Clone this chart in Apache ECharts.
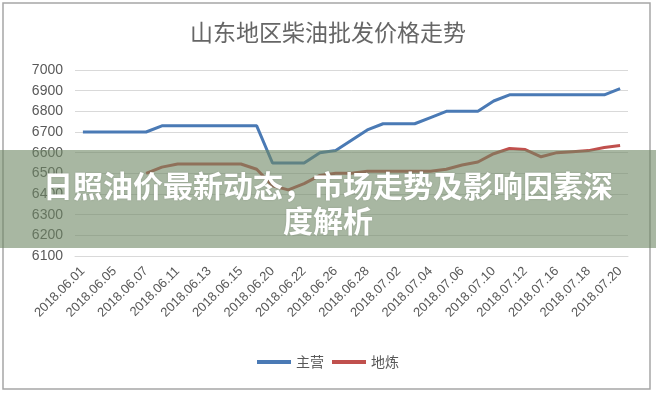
<!DOCTYPE html>
<html>
<head>
<meta charset="utf-8">
<script src="https://cdn.jsdelivr.net/npm/echarts@6/dist/echarts.min.js"></script>
<style>
html,body{margin:0;padding:0;background:#fff;}
#c{width:656px;height:400px;}
</style>
</head>
<body>
<div id="c"></div>
<script>
const dates = ['2018.06.01','2018.06.04','2018.06.05','2018.06.06','2018.06.07','2018.06.08','2018.06.11','2018.06.12','2018.06.13','2018.06.14','2018.06.15','2018.06.19','2018.06.20','2018.06.21','2018.06.22','2018.06.25','2018.06.26','2018.06.27','2018.06.28','2018.06.29','2018.07.02','2018.07.03','2018.07.04','2018.07.05','2018.07.06','2018.07.09','2018.07.10','2018.07.11','2018.07.12','2018.07.13','2018.07.16','2018.07.17','2018.07.18','2018.07.19','2018.07.20'];
const zhuying = [6700,6700,6700,6700,6700,6730,6730,6730,6730,6730,6730,6730,6550,6550,6550,6600,6610,6660,6710,6740,6740,6740,6770,6800,6800,6800,6850,6880,6880,6880,6880,6880,6880,6880,6910];
const dilian = [null,null,null,null,6500,6530,6545,6545,6545,6545,6545,6520,6440,6420,6450,6490,6500,6500,6510,6510,6510,6510,6510,6520,6540,6555,6595,6620,6615,6580,6600,6605,6610,6625,6635];
const seriesNames = ['主营','地炼'];
const titleText = '山东地区柴油批发价格走势';
const bannerText = '日照油价最新动态，市场走势及影响因素深\n度解析';

const chart = echarts.init(document.getElementById('c'), null, {renderer:'canvas'});
chart.setOption({
  animation:false,
  backgroundColor:'#fff',
  title:{text:titleText,left:'center',top:16,textStyle:{fontFamily:'Noto Sans CJK SC',fontWeight:'normal',fontSize:23,color:'#666'}},
  legend:{bottom:26,left:'center',itemWidth:34,itemHeight:4,itemGap:8,icon:'rect',
    textStyle:{fontFamily:'Noto Sans CJK SC',fontSize:14,color:'#595959'},
    data:seriesNames},
  grid:{left:75,right:28,top:70,bottom:144},
  xAxis:{type:'category',data:dates,boundaryGap:true,
    axisLine:{lineStyle:{color:'#d9d9d9'}},axisTick:{show:false},
    axisLabel:{interval:1,rotate:45,fontSize:13,color:'#595959',fontFamily:'Liberation Sans',margin:13}},
  yAxis:{type:'value',min:6100,max:7000,interval:100,
    axisLine:{show:false},axisTick:{show:false},
    splitLine:{lineStyle:{color:'#d9d9d9'}},
    axisLabel:{fontSize:14,color:'#595959',fontFamily:'Liberation Sans',margin:12,formatter:function(v){return String(v);}}},
  series:[
    {name:seriesNames[0],type:'line',data:zhuying,symbol:'none',lineStyle:{width:3,color:'#4a7ab5'},itemStyle:{color:'#4a7ab5'}},
    {name:seriesNames[1],type:'line',data:dilian,symbol:'none',lineStyle:{width:3,color:'#c0504d'},itemStyle:{color:'#c0504d'}}
  ],
  graphic:[
    {type:'rect',z:100,shape:{x:3,y:3,width:647,height:386},style:{fill:'none',stroke:'#a6a6a6',lineWidth:1.5}},
    {type:'rect',z:200,shape:{x:0,y:150,width:656,height:98},style:{fill:'rgba(110,135,100,0.6)'}},
    {type:'text',z:210,x:328,y:168,style:{text:bannerText,fill:'#fff',fontSize:30,fontWeight:'bold',
      fontFamily:'Noto Sans CJK SC',lineHeight:35,align:'center',verticalAlign:'top',textShadowColor:'rgba(0,0,0,0.15)',textShadowBlur:2}}
  ]
});
</script>
</body>
</html>
